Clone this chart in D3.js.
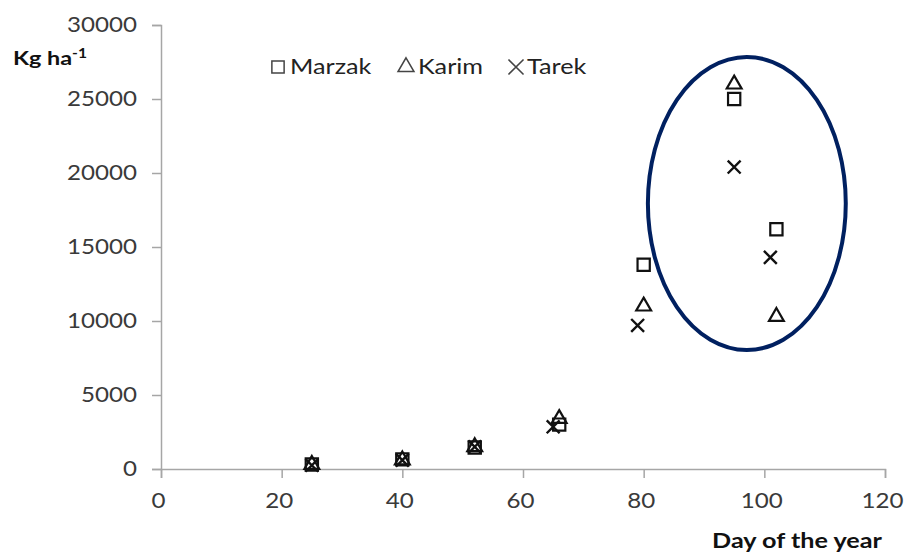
<!DOCTYPE html>
<html>
<head>
<meta charset="utf-8">
<script src="https://cdn.jsdelivr.net/npm/d3@7"></script>
<style>
  html, body { margin: 0; padding: 0; background: #fff; }
  svg { display: block; font-family: Lato, "Open Sans", sans-serif; }
</style>
</head>
<body>
<div id="chart"></div>
<script>
// data
const marzakDays = [25, 40, 52, 66, 80, 95, 102];
const marzakKg = [300, 650, 1450, 3000, 13800, 25000, 16200];
const karimDays = [25, 40, 52, 66, 80, 95, 102];
const karimKg = [300, 600, 1500, 3400, 11000, 26000, 10300];
const tarekDays = [25, 40, 52, 65, 79, 95, 101];
const tarekKg = [250, 600, 1500, 2850, 9700, 20400, 14300];
const seriesNames = ["Marzak", "Karim", "Tarek"];
const xTicks = [0, 20, 40, 60, 80, 100, 120];
const yTicks = [0, 5000, 10000, 15000, 20000, 25000, 30000];
// highlighted group (center day / kg, radii)
const ringCenter = [97.1, 17940];
const ringRadius = [16.4, 9900];

const W = 905, H = 555;
const margin = { top: 25, right: 20, bottom: 86, left: 161 };
const sx = 1.15; // the original text is a bit wider than Lato

const svg = d3.select("#chart").append("svg")
  .attr("width", W)
  .attr("height", H);

const x = d3.scaleLinear().domain([0, 120]).range([margin.left, 885]);
const y = d3.scaleLinear().domain([0, 30000]).range([H - margin.bottom, margin.top]);

const axisColor = "#a6a6a6";
const textColor = "#3a3a3a";

// move x/y of a text into a transform so it can be widened around its anchor
function widen(sel, k) {
  sel.each(function () {
    const t = d3.select(this);
    const tx = +t.attr("x") || 0, ty = +t.attr("y") || 0;
    t.attr("x", null).attr("y", null)
      .attr("transform", `translate(${tx},${ty}) scale(${k},1)`);
  });
}

// y axis
const yAxis = svg.append("g")
  .attr("transform", `translate(${margin.left},0)`)
  .call(d3.axisLeft(y).tickValues(yTicks).tickSize(9).tickPadding(15).tickFormat(d3.format("d")));
yAxis.select(".domain").attr("stroke", axisColor).attr("stroke-width", 1.5);
yAxis.selectAll(".tick line").attr("stroke", axisColor).attr("stroke-width", 1.5);
yAxis.selectAll("text").attr("fill", textColor).attr("font-size", 21).attr("font-family", "Lato")
  .call(widen, sx);

// x axis
const xAxis = svg.append("g")
  .attr("transform", `translate(0,${y(0)})`)
  .call(d3.axisBottom(x).tickValues(xTicks).tickSize(9).tickPadding(15));
xAxis.select(".domain").attr("stroke", axisColor).attr("stroke-width", 1.5);
xAxis.selectAll(".tick line").attr("stroke", axisColor).attr("stroke-width", 1.5);
xAxis.selectAll("text").attr("fill", textColor).attr("font-size", 21).attr("font-family", "Lato")
  .attr("x", -3).attr("y", 24).attr("dy", "0.71em")
  .call(widen, sx);

// axis titles
const yTitle = svg.append("text")
  .attr("x", 13).attr("y", 65)
  .attr("font-weight", "bold").attr("font-size", 19.5).attr("fill", "#111");
yTitle.append("tspan").text("Kg ha");
yTitle.append("tspan").attr("dy", -7).attr("font-size", 13).text("-1");
widen(yTitle, 1.2);

svg.append("text")
  .attr("x", 882).attr("y", 548)
  .attr("text-anchor", "end")
  .attr("font-weight", "bold").attr("font-size", 21).attr("fill", "#111")
  .text("Day of the year")
  .call(widen, 1.2);

// marker shapes
const sq = d3.symbol().type(d3.symbolSquare).size(150);
const tri = d3.symbol().type(d3.symbolTriangle).size(95);
const crs = d3.symbol().type(d3.symbolTimes).size(110);

function drawSeries(days, vals, sym, sw) {
  const g = svg.append("g");
  g.selectAll("path")
    .data(days.map((d, i) => [d, vals[i]]))
    .join("path")
    .attr("d", sym)
    .attr("transform", d => `translate(${x(d[0])},${y(d[1])})`)
    .attr("fill", "none")
    .attr("stroke", "#111")
    .attr("stroke-width", sw);
}
drawSeries(marzakDays, marzakKg, sq, 2.2);
drawSeries(karimDays, karimKg, tri, 2.2);
drawSeries(tarekDays, tarekKg, crs, 2.4);

// highlight ellipse
svg.append("ellipse")
  .attr("cx", x(ringCenter[0]))
  .attr("cy", y(ringCenter[1]))
  .attr("rx", x(ringCenter[0] + ringRadius[0]) - x(ringCenter[0]))
  .attr("ry", y(0) - y(ringRadius[1]))
  .attr("fill", "none")
  .attr("stroke", "#002060")
  .attr("stroke-width", 4);

// legend
const legend = svg.append("g").attr("font-size", 21).attr("fill", "#222");
const legendX = [278, 406, 516];
const legendSym = [
  d3.symbol().type(d3.symbolSquare).size(150),
  d3.symbol().type(d3.symbolTriangle).size(110),
  d3.symbol().type(d3.symbolTimes).size(150)
];
seriesNames.forEach((name, i) => {
  legend.append("path")
    .attr("d", legendSym[i])
    .attr("transform", `translate(${legendX[i]},67)`)
    .attr("fill", "none")
    .attr("stroke", "#444")
    .attr("stroke-width", i === 2 ? 1.6 : 1.5);
  legend.append("text")
    .attr("x", legendX[i] + (i === 2 ? 11 : 12))
    .attr("y", 74)
    .text(name)
    .call(widen, 1.2);
});
</script>
</body>
</html>
